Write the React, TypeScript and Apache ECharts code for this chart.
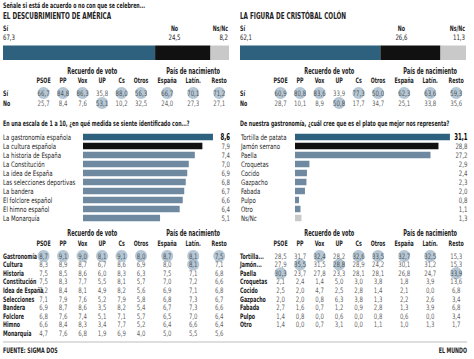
import React, { useEffect, useRef } from "react";
import * as echarts from "echarts";

const FONT = '"DejaVu Sans Condensed", "DejaVu Sans", sans-serif';

// ---------- DATA ----------
const agreeLabels = ["Sí", "No", "Ns/Nc"];
const descubrimiento = [67.3, 24.5, 8.2];
const colon = [62.1, 26.6, 11.3];

const voteCols = ["PSOE", "PP", "Vox", "UP", "Cs", "Otros"];
const birthCols = ["España", "Latín.", "Resto"];
const yesNoRows = ["Sí", "No"];

const descubrimientoTable = [
  [66.7, 84.8, 86.3, 35.8, 88.0, 56.3, 66.7, 70.1, 71.2],
  [25.7, 8.4, 7.6, 53.1, 10.2, 32.5, 24.0, 27.3, 27.1],
];
const colonTable = [
  [60.9, 80.8, 83.6, 33.9, 77.3, 50.0, 62.3, 63.6, 59.3],
  [28.7, 10.1, 8.9, 50.8, 17.7, 34.7, 25.1, 33.8, 35.6],
];

const identityLabels = [
  "La gastronomía española",
  "La cultura española",
  "La historia de España",
  "La Constitución",
  "La idea de España",
  "Las selecciones deportivas",
  "La bandera",
  "El folclore español",
  "El himno español",
  "La Monarquía",
];
const identityValues = [8.6, 7.9, 7.4, 7.0, 6.9, 6.8, 6.7, 6.6, 6.4, 5.1];

const dishLabels = [
  "Tortilla de patata",
  "Jamón serrano",
  "Paella",
  "Croquetas",
  "Cocido",
  "Gazpacho",
  "Fabada",
  "Pulpo",
  "Otro",
  "Ns/Nc",
];
const dishValues = [31.1, 28.8, 27.2, 2.9, 2.4, 2.3, 2.0, 0.8, 1.1, 1.3];

const identityRows = [
  "Gastronomía",
  "Cultura",
  "Historia",
  "Constitución",
  "Idea de España",
  "Selecciones",
  "Bandera",
  "Folclore",
  "Himno",
  "Monarquía",
];
const identityTable = [
  [8.7, 9.1, 9.0, 8.1, 9.1, 8.0, 8.7, 8.1, 7.5],
  [8.3, 8.9, 8.7, 6.7, 8.6, 6.9, 8.0, 8.1, 7.1],
  [7.5, 8.5, 8.6, 6.0, 8.3, 6.3, 7.5, 7.1, 6.8],
  [7.5, 8.3, 7.7, 5.5, 8.1, 5.7, 7.0, 7.2, 6.6],
  [7.2, 8.4, 8.1, 4.9, 8.2, 5.6, 6.9, 7.1, 6.8],
  [7.1, 7.9, 7.6, 5.2, 7.9, 5.8, 6.8, 7.3, 6.7],
  [6.9, 8.7, 8.6, 3.5, 8.2, 5.4, 6.7, 7.3, 6.6],
  [6.8, 7.6, 7.4, 5.1, 7.1, 5.7, 6.5, 7.0, 6.4],
  [6.6, 8.4, 8.3, 3.4, 7.7, 5.2, 6.4, 6.6, 6.4],
  [4.7, 7.6, 6.8, 1.9, 6.9, 4.0, 5.0, 5.5, 5.6],
];

const dishRows = ["Tortilla...", "Jamón...", "Paella", "Croquetas", "Cocido", "Gazpacho", "Fabada", "Pulpo", "Otro"];
const dishTable = [
  [28.5, 31.7, 32.4, 28.2, 32.6, 33.5, 32.7, 32.5, 15.3],
  [27.9, 35.5, 31.5, 28.8, 28.9, 24.2, 30.1, 31.2, 15.3],
  [30.3, 23.7, 27.8, 23.3, 28.1, 28.1, 26.8, 24.7, 33.9],
  [2.1, 2.4, 1.4, 5.0, 3.0, 3.8, 1.8, 3.9, 13.6],
  [2.5, 2.0, 4.7, 2.5, 2.8, 1.4, 2.1, 0.0, 6.8],
  [2.0, 2.0, 0.8, 6.3, 3.8, 1.3, 2.2, 2.6, 3.4],
  [2.7, 1.6, 0.7, 1.2, 0.9, 2.8, 1.3, 3.9, 6.8],
  [1.4, 0.8, 0.0, 0.6, 0.0, 0.8, 0.6, 0.0, 3.4],
  [1.4, 0.0, 0.7, 3.1, 0.0, 1.1, 1.0, 1.3, 1.7],
];

// ---------- STYLE ----------
const BLUE = "#2d617d";
const BLACK = "#111111";
const SLATE = "#6f8aa0";
const LIGHT = "#c9c9c9";
const CIRCLE = "#a2b9cb";
const TEXT = "#222222";
const FS = 7.5;

const fmt = (v: number) => v.toFixed(1).replace(".", ",");

function buildOption() {
  const grid: any[] = [];
  const xAxis: any[] = [];
  const yAxis: any[] = [];
  const series: any[] = [];

  const addGrid = (g: any) => {
    grid.push({ ...g, containLabel: false });
    return grid.length - 1;
  };

  // stacked agree bars
  const addStacked = (left: number, values: number[]) => {
    const gi = addGrid({ left, top: 45.5, width: 226, height: 14.5 });
    const xi = xAxis.push({ gridIndex: gi, type: "value", min: 0, max: 100, show: false }) - 1;
    const yi = yAxis.push({ gridIndex: gi, type: "category", data: [""], show: false }) - 1;
    values.forEach((v, k) => {
      const al = k === 0 ? "left" : k === 1 ? "center" : "right";
      series.push({
        type: "bar",
        xAxisIndex: xi,
        yAxisIndex: yi,
        stack: "s" + gi,
        barWidth: "100%",
        data: [v],
        itemStyle: { color: [BLUE, BLACK, LIGHT][k] },
        label: {
          show: true,
          position: k === 0 ? [0, -4] : k === 1 ? ["35%", -4] : ["100%", -4],
          offset: k === 2 ? [-1, 0] : [0, 0],
          align: al,
          verticalAlign: "bottom",
          formatter: `{n|${agreeLabels[k]}}\n{v|${fmt(v)}}`,
          rich: {
            n: { fontFamily: FONT, fontSize: FS, fontWeight: "bold", color: TEXT, lineHeight: 9, align: al },
            v: { fontFamily: FONT, fontSize: FS, color: TEXT, lineHeight: 9, align: al },
          },
        },
      });
    });
  };
  addStacked(3, descubrimiento);
  addStacked(240, colon);

  // horizontal bar charts
  const barColor = (i: number, label: string) =>
    label === "Ns/Nc" ? LIGHT : i === 0 ? BLUE : i === 1 ? BLACK : SLATE;

  const addBars = (left: number, width: number, max: number, labels: string[], values: number[], labelMargin: number, valueMargin: number) => {
    const gi = addGrid({ left, top: 132.5, width, height: 90 });
    const xi = xAxis.push({ gridIndex: gi, type: "value", min: 0, max, show: false }) - 1;
    const yi =
      yAxis.push({
        gridIndex: gi,
        type: "category",
        inverse: true,
        data: labels,
        axisLine: { show: false },
        axisTick: { show: false },
        axisLabel: { align: "left", margin: labelMargin, fontFamily: FONT, fontSize: FS, color: TEXT, interval: 0 },
      }) - 1;
    yAxis.push({
      gridIndex: gi,
      type: "category",
      inverse: true,
      position: "right",
      data: values.map(fmt),
      axisLine: { show: false },
      axisTick: { show: false },
      axisLabel: {
        align: "right",
        margin: valueMargin,
        interval: 0,
        formatter: (v: string, i: number) => (i === 0 ? `{b|${v}}` : `{n|${v}}`),
        rich: {
          b: { fontFamily: FONT, fontSize: 8.5, fontWeight: "bold", color: "#000" },
          n: { fontFamily: FONT, fontSize: FS, color: "#555" },
        },
      },
    });
    series.push({
      type: "bar",
      xAxisIndex: xi,
      yAxisIndex: yi,
      barWidth: 6.5,
      data: values.map((v, i) => ({ value: v, itemStyle: { color: barColor(i, labels[i]) } })),
    });
  };
  addBars(83, 136, 9, identityLabels, identityValues, 80, 11);
  addBars(295, 159.4, 32, dishLabels, dishValues, 54, 13);

  // tables
  const addTable = (panelX: number, top: number, band: number, rows: string[], matrix: number[][], labelGap: number, nameGap: number) => {
    const h = rows.length * band;
    const colMax = matrix[0].map((_, c) => Math.max(...matrix.map((r) => r[c])));
    const groups = [
      { cols: voteCols, left: panelX + 33.8, width: 117, offset: 0, name: "Recuerdo de voto" },
      { cols: birthCols, left: panelX + 154.2, width: 78, offset: 6, name: "País de nacimiento" },
    ];
    groups.forEach((g, gk) => {
      const gi = addGrid({ left: g.left, top, width: g.width, height: h });
      const xi =
        xAxis.push({
          gridIndex: gi,
          type: "category",
          position: "top",
          data: g.cols,
          name: g.name,
          nameLocation: "middle",
          nameGap,
          nameTextStyle: { fontFamily: FONT, fontSize: 8, fontWeight: "bold", color: TEXT },
          axisLine: { show: false },
          axisTick: { show: false },
          splitLine: { show: false },
          axisLabel: { interval: 0, margin: labelGap, fontFamily: FONT, fontSize: FS, fontWeight: "bold", color: TEXT },
        }) - 1;
      const yi =
        yAxis.push({
          gridIndex: gi,
          type: "category",
          inverse: true,
          data: rows,
          show: gk === 0,
          axisLine: { show: false },
          axisTick: { show: false },
          splitLine: { show: false },
          axisLabel: { interval: 0, align: "left", margin: g.left - (panelX + 3), fontFamily: FONT, fontSize: FS, fontWeight: "bold", color: TEXT },
        }) - 1;
      const data: any[] = [];
      rows.forEach((_, ri) =>
        g.cols.forEach((__, ci) => {
          const v = matrix[ri][ci + g.offset];
          const hl = v === colMax[ci + g.offset];
          data.push({
            value: [ci, ri, v],
            symbolSize: hl ? 12 : 1,
            itemStyle: { color: hl ? CIRCLE : "rgba(0,0,0,0)" },
          });
        })
      );
      series.push({
        type: "scatter",
        xAxisIndex: xi,
        yAxisIndex: yi,
        symbol: "circle",
        data,
        label: {
          show: true,
          position: "inside",
          formatter: (p: any) => fmt(p.value[2]),
          fontFamily: FONT,
          fontSize: FS,
          color: "#333",
        },
      });
    });
  };
  addTable(0, 88, 10, yesNoRows, descubrimientoTable, 4, 13);
  addTable(237, 88, 10, yesNoRows, colonTable, 4, 13);
  addTable(0, 251.7, 8.6, identityRows, identityTable, 4.5, 14);
  addTable(237, 251.7, 8.6, dishRows, dishTable, 4.5, 14);

  const txt = (x: number, y: number, text: string, extra: any = {}) => ({
    type: "text",
    x,
    y,
    style: { text, fontFamily: FONT, fontSize: FS, fill: TEXT, textVerticalAlign: "middle", ...extra },
  });

  const graphic = [
    txt(3, 5, "Señale si está de acuerdo o no con que se celebren...", { fontWeight: "bold" }),
    txt(3, 16, "EL DESCUBRIMIENTO DE AMÉRICA", { fontWeight: "bold", fontSize: 9 }),
    txt(240, 16, "LA FIGURA DE CRISTÓBAL COLÓN", { fontWeight: "bold", fontSize: 9 }),
    txt(3, 123, "En una escala de 1 a 10, ¿en qué medida se siente identificado con...?", { fontWeight: "bold" }),
    txt(240, 123, "De nuestra gastronomía, ¿cuál cree que es el plato que mejor nos representa?", { fontWeight: "bold" }),
    {
      type: "line",
      shape: { x1: 3, y1: 342, x2: 467, y2: 342 },
      style: { stroke: "#d3d3d3", lineWidth: 1.5 },
    },
    txt(3, 350, "FUENTE: SIGMA DOS", { fontWeight: "bold" }),
    txt(467, 350, "EL MUNDO", { fontWeight: "bold", textAlign: "right" }),
  ];

  return {
    animation: false,
    backgroundColor: "#ffffff",
    textStyle: { fontFamily: FONT },
    grid,
    xAxis,
    yAxis,
    series,
    graphic,
  };
}

// Narrow the glyphs to mimic the condensed newspaper typeface.
function condenseTexts(root: HTMLElement | null) {
  if (!root) return;
  root.querySelectorAll("text").forEach((t: any) => {
    if (t.getAttribute("lengthAdjust")) return;
    const len = t.getComputedTextLength ? t.getComputedTextLength() : 0;
    if (!len) return;
    const w = parseInt(getComputedStyle(t).fontWeight || "400", 10);
    const f = w >= 600 ? 0.7 : 0.8;
    t.setAttribute("textLength", (len * f).toFixed(2));
    t.setAttribute("lengthAdjust", "spacingAndGlyphs");
  });
}

export default function App() {
  const ref = useRef<HTMLDivElement>(null);
  useEffect(() => {
    const chart = echarts.init(ref.current!, null, { renderer: "svg" });
    chart.setOption(buildOption() as any);
    const zr: any = chart.getZr();
    if (zr && zr.flush) zr.flush();
    condenseTexts(ref.current);
    const onFinished = () => condenseTexts(ref.current);
    chart.on("finished", onFinished);
    const t = window.setTimeout(onFinished, 0);
    return () => {
      window.clearTimeout(t);
      chart.dispose();
    };
  }, []);
  return <div ref={ref} style={{ position: "absolute", left: 0, top: 0, width: 474, height: 359 }} />;
}
